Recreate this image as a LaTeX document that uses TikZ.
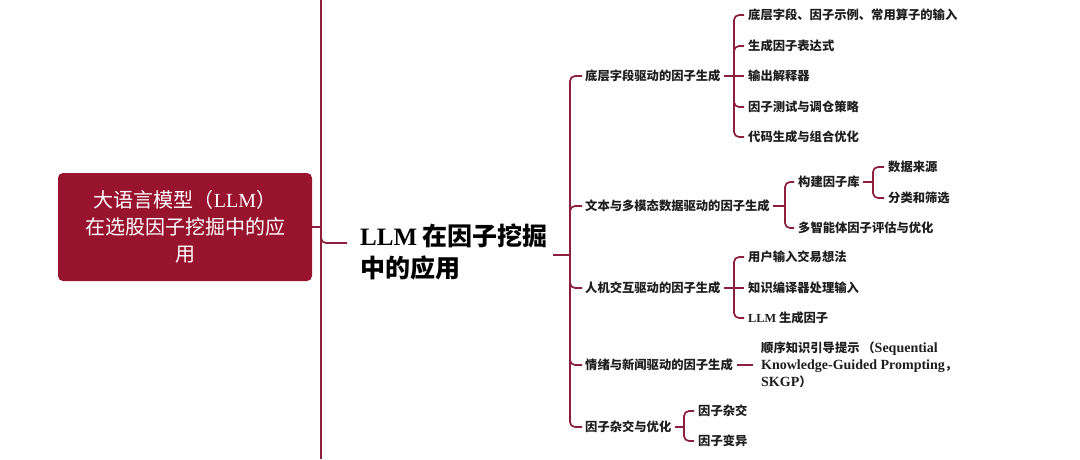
\documentclass[tikz,border=0pt]{standalone}
\usepackage{fontspec}
\setmainfont{Liberation Serif}
\newfontfamily\cjk{Noto Sans CJK SC}
\newcommand{\en}[1]{{\rmfamily #1}}
\newcommand{\enwide}[1]{{\rmfamily\fontsize{14}{17}\selectfont #1}}
\usetikzlibrary{positioning}

\definecolor{mapred}{RGB}{152,20,46}
\definecolor{mapline}{RGB}{140,30,62}
\definecolor{maptext}{RGB}{30,30,30}

\tikzset{
  link/.style={draw=mapline, line width=1.7pt, rounded corners=5pt},
  topic/.style={anchor=west, inner sep=0pt, text=maptext, font=\cjk\bfseries\fontsize{12.3}{17}\selectfont},
  rootbox/.style={fill=mapred, rounded corners=5pt, minimum width=254pt, minimum height=108pt,
    align=center, text=white, inner sep=0pt, font=\cjk\fontsize{20}{27}\selectfont},
  maintitle/.style={anchor=west, inner sep=0pt, align=left, text=black, font=\cjk\bfseries\fontsize{25}{32}\selectfont}
}

\begin{document}
\begin{tikzpicture}[x=1pt,y=-1pt]
\useasboundingbox (0,0) rectangle (1080,459);

% Root box and main title.
\node[rootbox] (root) at (185,227) {大语言模型（\en{LLM}）\\在选股因子挖掘中的应\\用};
\node[maintitle] (title) at (360,252) {\en{LLM} 在因子挖掘\\中的应用};

% First level topics.
\node[topic] (drive) at (585,76) {底层字段驱动的因子生成};
\node[topic] (text) at (585,206) {文本与多模态数据驱动的因子生成};
\node[topic] (human) at (585,288) {人机交互驱动的因子生成};
\node[topic] (news) at (585,365) {情绪与新闻驱动的因子生成};
\node[topic] (cross) at (585,427) {因子杂交与优化};

% Leaves of the first topic.
\node[topic] (drive1) at (748,15) {底层字段、因子示例、常用算子的输入};
\node[topic] (drive2) at (748,46) {生成因子表达式};
\node[topic] (drive3) at (748,76) {输出解释器};
\node[topic] (drive4) at (748,107) {因子测试与调仓策略};
\node[topic] (drive5) at (748,137) {代码生成与组合优化};

% Leaves of the second topic.
\node[topic] (lib) at (798,182) {构建因子库};
\node[topic] (agent) at (798,228) {多智能体因子评估与优化};
\node[topic] (source) at (888,167) {数据来源};
\node[topic] (sort) at (888,198) {分类和筛选};

% Leaves of the third topic.
\node[topic] (human1) at (748,257) {用户输入交易想法};
\node[topic] (human2) at (748,288) {知识编译器处理输入};
\node[topic] (human3) at (748,318) {\en{LLM} 生成因子};

% Leaf of the fourth topic.
\node[topic, align=left] (skgp) at (761,365) {顺序知识引导提示 （\enwide{Sequential}\\\enwide{Knowledge-Guided Prompting}，\\\enwide{SKGP}）};

% Leaves of the fifth topic.
\node[topic] (cross1) at (698,411) {因子杂交};
\node[topic] (cross2) at (698,441) {因子变异};

% Draw the long spine and its stubs.
\coordinate (spine) at (321,0);
\coordinate (stub) at (347,243);
\draw[link] (spine) -- (321,459);
\draw[link] (root.east) -- (root.east -| spine);
\draw[link] (stub -| spine) ++(0,-10) |- (stub);

% Draw the bracket of the title.
\coordinate (hub) at (570,255);
\draw[link] ([xshift=5pt]title.east |- hub) -- (hub);
\draw[link] (hub) |- ([xshift=-3pt]drive.west);
\draw[link] (hub) |- ([xshift=-3pt]text.west);
\draw[link] (hub) |- ([xshift=-3pt]human.west);
\draw[link] (hub) |- ([xshift=-3pt]news.west);
\draw[link] (hub) |- ([xshift=-3pt]cross.west);

% Draw the brackets of the topics.
\coordinate (driveb) at (734,76);
\draw[link] ([xshift=3pt]drive.east) -- (driveb);
\draw[link] (driveb) |- ([xshift=-4pt]drive1.west);
\draw[link] (driveb) |- ([xshift=-4pt]drive2.west);
\draw[link] (driveb) |- ([xshift=-4pt]drive4.west);
\draw[link] (driveb) |- ([xshift=-4pt]drive5.west);
\draw[link] (driveb) -- ([xshift=-4pt]drive3.west);

\coordinate (textb) at (785,206);
\draw[link] ([xshift=3pt]text.east) -- (textb);
\draw[link] (textb) |- ([xshift=-4pt]lib.west);
\draw[link] (textb) |- ([xshift=-4pt]agent.west);

\coordinate (libb) at (873,182);
\draw[link] ([xshift=3pt]lib.east) -- (libb);
\draw[link] (libb) |- ([xshift=-4pt]source.west);
\draw[link] (libb) |- ([xshift=-4pt]sort.west);

\coordinate (humanb) at (734,288);
\draw[link] ([xshift=3pt]human.east) -- (humanb);
\draw[link] (humanb) |- ([xshift=-4pt]human1.west);
\draw[link] (humanb) -- ([xshift=-4pt]human2.west);
\draw[link] (humanb) |- ([xshift=-4pt]human3.west);

\draw[link] ([xshift=4pt]news.east) -- ([xshift=-8pt]skgp.west);

\coordinate (crossb) at (684,427);
\draw[link] ([xshift=3pt]cross.east) -- (crossb);
\draw[link] (crossb) |- ([xshift=-4pt]cross1.west);
\draw[link] (crossb) |- ([xshift=-4pt]cross2.west);
\end{tikzpicture}
\end{document}
